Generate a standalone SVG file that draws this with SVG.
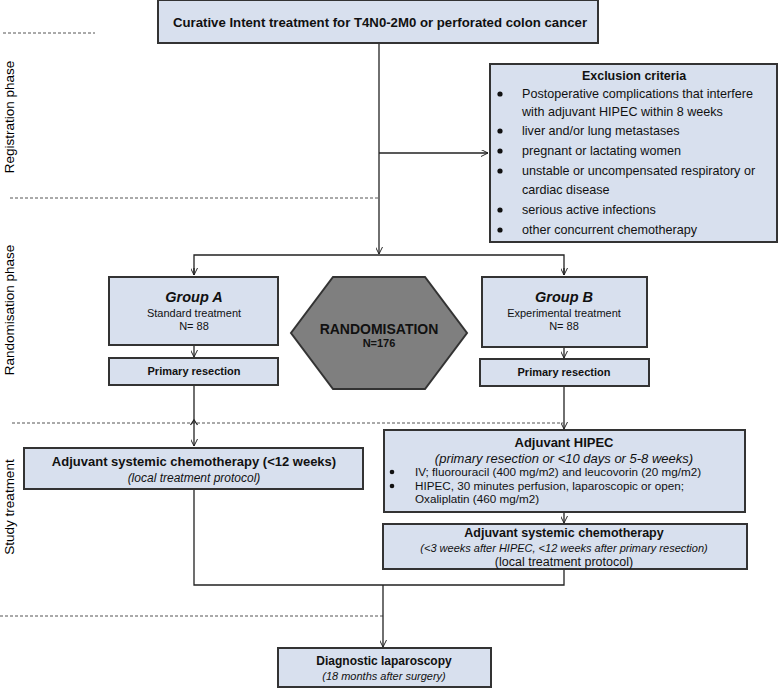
<svg xmlns="http://www.w3.org/2000/svg" width="779" height="688" viewBox="0 0 779 688">
<defs>
<marker id="arr" viewBox="0 0 10 10" refX="10" refY="5" markerWidth="7" markerHeight="7" orient="auto" markerUnits="userSpaceOnUse">
<path d="M0,0 L10,5 L0,10" fill="none" stroke="#222" stroke-width="1.4"/>
</marker>
</defs>
<style>
text{font-family:"Liberation Sans",Arial,sans-serif;fill:#111}
.box{fill:#d8e0ee;stroke:#333;stroke-width:2}
.b{font-weight:bold}
.i{font-style:italic}
.c{text-anchor:middle}
.ln{fill:none;stroke:#222;stroke-width:1.3}
.dash{fill:none;stroke:#555;stroke-width:1;stroke-dasharray:3,2}
.phase{font-size:13.5px;fill:#000}
</style>
<rect width="779" height="688" fill="#fff"/>

<g id="phases">
<line class="dash" x1="3" y1="33" x2="95" y2="33"/>
<line class="dash" x1="10" y1="198" x2="379" y2="198"/>
<line class="dash" x1="12" y1="423" x2="563" y2="423"/>
<line class="dash" x1="0" y1="616" x2="383" y2="616"/>
<text class="phase c" transform="translate(14,117) rotate(-90)">Registration phase</text>
<text class="phase c" transform="translate(14,310) rotate(-90)">Randomisation phase</text>
<text class="phase c" transform="translate(14,507) rotate(-90)">Study treatment</text>
</g>

<g id="connectors">
<line class="ln" x1="379" y1="43" x2="379" y2="254" marker-end="url(#arr)"/>
<line class="ln" x1="379" y1="153" x2="488" y2="153" marker-end="url(#arr)"/>
<polyline class="ln" points="194,275 194,255 564,255 564,275"/>
<line class="ln" x1="194" y1="268" x2="194" y2="275" marker-end="url(#arr)"/>
<line class="ln" x1="564" y1="268" x2="564" y2="275" marker-end="url(#arr)"/>
<line class="ln" x1="194" y1="345" x2="194" y2="357" marker-end="url(#arr)"/>
<line class="ln" x1="564" y1="347" x2="564" y2="358" marker-end="url(#arr)"/>
<line class="ln" x1="194" y1="385" x2="194" y2="446" marker-end="url(#arr)"/>
<path class="ln" d="M190.5,425 L194,420 L197.5,425"/>
<line class="ln" x1="564" y1="386" x2="564" y2="429" marker-end="url(#arr)"/>
<line class="ln" x1="564" y1="512" x2="564" y2="523" marker-end="url(#arr)"/>
<polyline class="ln" points="194,489 194,585 564,585 564,569"/>
<line class="ln" x1="383" y1="585" x2="383" y2="647" marker-end="url(#arr)"/>
</g>

<g id="start">
<rect class="box" x="158" y="0" width="440" height="43"/>
<text class="b c" x="380" y="27" font-size="13.2">Curative Intent treatment for T4N0-2M0 or perforated colon cancer</text>
</g>

<g id="exclusion">
<rect class="box" x="490" y="64" width="287" height="178"/>
<text class="b c" x="634" y="80" font-size="12.5">Exclusion criteria</text>
<g font-size="12.6">
<circle cx="500" cy="94" r="2.6" fill="#111"/>
<text x="522" y="98">Postoperative complications that interfere</text>
<text x="522" y="116">with adjuvant  HIPEC within 8 weeks</text>
<circle cx="500" cy="131" r="2.6" fill="#111"/>
<text x="522" y="135">liver and/or lung metastases</text>
<circle cx="500" cy="151" r="2.6" fill="#111"/>
<text x="522" y="155">pregnant or lactating women</text>
<circle cx="500" cy="171" r="2.6" fill="#111"/>
<text x="522" y="175">unstable or uncompensated respiratory or</text>
<text x="522" y="194">cardiac disease</text>
<circle cx="500" cy="210" r="2.6" fill="#111"/>
<text x="522" y="214">serious active infections</text>
<circle cx="500" cy="230" r="2.6" fill="#111"/>
<text x="522" y="234">other concurrent chemotherapy</text>
</g>
</g>

<g id="groupA">
<rect class="box" x="109" y="277" width="169" height="68"/>
<text class="b i c" x="194" y="302" font-size="14.5">Group A</text>
<text class="c" x="194" y="317" font-size="11">Standard treatment</text>
<text class="c" x="194" y="330" font-size="11">N= 88</text>
</g>

<g id="resectionA">
<rect class="box" x="109" y="358" width="169" height="27"/>
<text class="b c" x="194" y="375" font-size="11">Primary resection</text>
</g>

<g id="randomisation">
<polygon points="333,277 425,277 467,333 425,389 333,389 291,333" fill="#7f7f7f" stroke="#333" stroke-width="2"/>
<text class="b c" x="379" y="334" font-size="14">RANDOMISATION</text>
<text class="b c" x="379" y="347" font-size="11">N=176</text>
</g>

<g id="groupB">
<rect class="box" x="482" y="277" width="165" height="70"/>
<text class="b i c" x="564" y="302" font-size="14.5">Group B</text>
<text class="c" x="564" y="317" font-size="11">Experimental treatment</text>
<text class="c" x="564" y="330" font-size="11">N= 88</text>
</g>

<g id="resectionB">
<rect class="box" x="480" y="359" width="169" height="27"/>
<text class="b c" x="564" y="376" font-size="11">Primary resection</text>
</g>

<g id="chemoA">
<rect class="box" x="24" y="448" width="339" height="41"/>
<text class="b c" x="194" y="466" font-size="13">Adjuvant systemic chemotherapy (&lt;12 weeks)</text>
<text class="i c" x="194" y="482" font-size="12">(local treatment protocol)</text>
</g>

<g id="hipec">
<rect class="box" x="384" y="430" width="361" height="82"/>
<text class="b c" x="564" y="447" font-size="13">Adjuvant HIPEC</text>
<text class="i c" x="564" y="463" font-size="13">(primary resection or &lt;10 days or 5-8 weeks)</text>
<g font-size="11.7">
<circle cx="392" cy="472" r="2.3" fill="#111"/>
<text x="415" y="476">IV; fluorouracil (400 mg/m2) and leucovorin (20 mg/m2)</text>
<circle cx="392" cy="486" r="2.3" fill="#111"/>
<text x="415" y="490">HIPEC, 30 minutes perfusion, laparoscopic or open;</text>
<text x="415" y="503">Oxaliplatin (460 mg/m2)</text>
</g>
</g>

<g id="chemoB">
<rect class="box" x="383" y="524" width="364" height="45"/>
<text class="b c" x="564" y="537" font-size="12.5">Adjuvant systemic chemotherapy</text>
<text class="i c" x="564" y="552" font-size="11">(&lt;3 weeks after HIPEC, &lt;12 weeks after primary resection)</text>
<text class="c" x="564" y="566" font-size="12.5">(local treatment protocol)</text>
</g>

<g id="diagnostic">
<rect class="box" x="278" y="648" width="213" height="39"/>
<text class="b c" x="384" y="665" font-size="12">Diagnostic laparoscopy</text>
<text class="i c" x="384" y="680" font-size="11">(18 months after surgery)</text>
</g>
</svg>
